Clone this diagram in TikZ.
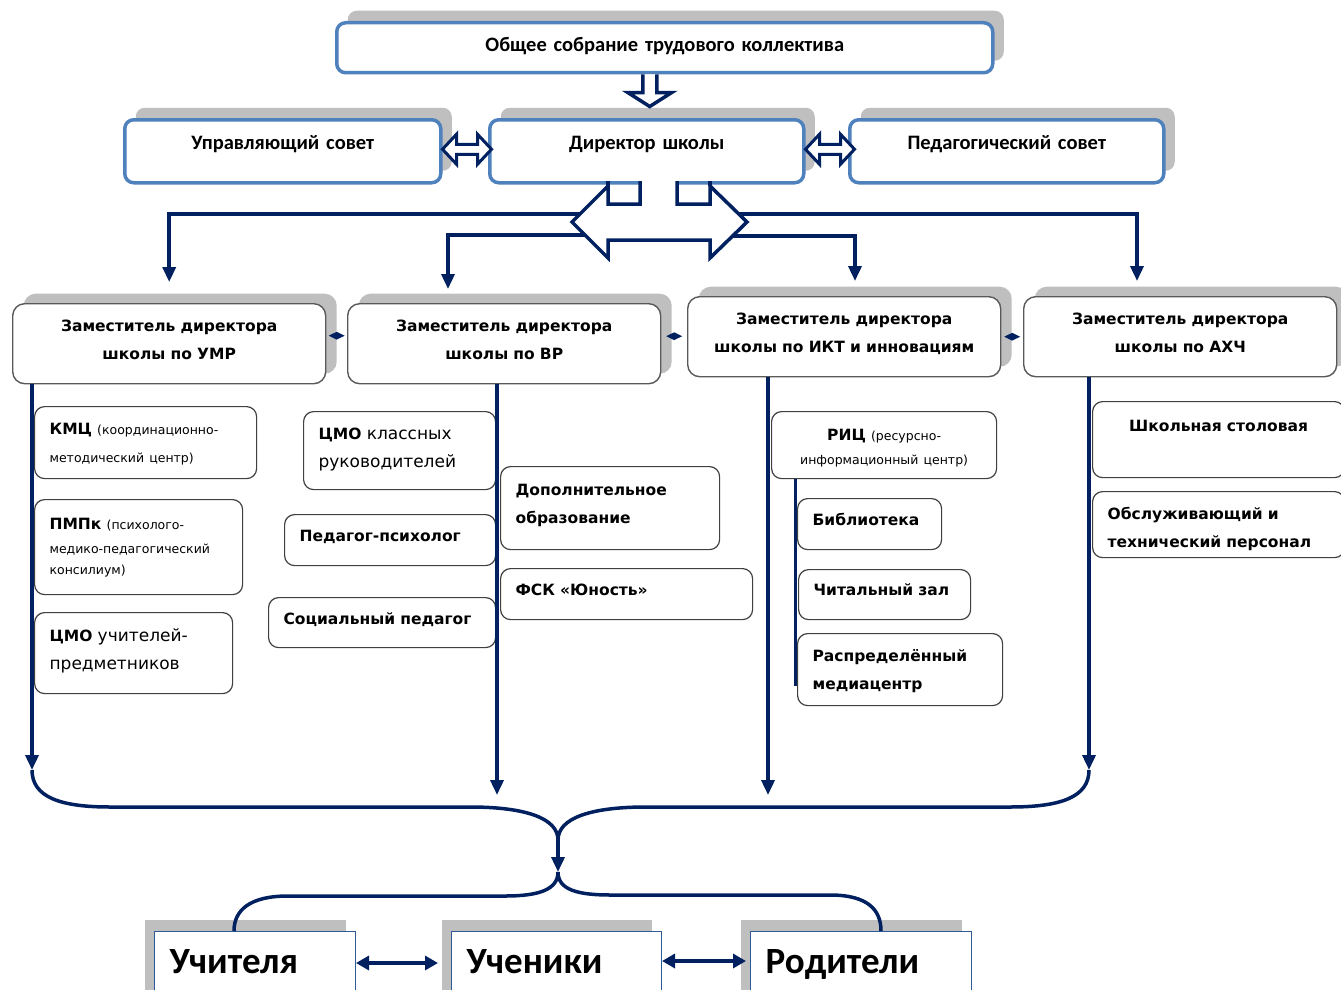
\documentclass[tikz,border=0pt]{standalone}
\usepackage{fontspec}
\setmainfont{DejaVu Sans}
\newfontfamily\calibrifont{Carlito}
\newfontfamily\smallnotefont{DejaVu Sans}
\usetikzlibrary{arrows.meta,calc,shadows,shapes.geometric}

\definecolor{navy}{RGB}{0,32,96}
\definecolor{boxblue}{RGB}{79,129,189}
\definecolor{shadowgray}{RGB}{191,191,191}
\definecolor{framegray}{RGB}{89,89,89}
\definecolor{unitgray}{RGB}{64,64,64}

\newcommand{\smallnote}[1]{{\smallnotefont\mdseries\fontsize{12.5}{15}\selectfont #1}}
\newcommand{\plainpart}{\mdseries\fontsize{17}{28}\selectfont}

\begin{document}
\begin{tikzpicture}[x=1pt, y=-1pt,
    dims/.style n args={3}{text width=#1pt, text height=#2pt, text depth=#3pt},
    council/.style={draw=boxblue, line width=3.5pt, rounded corners=9pt, fill=white,
        anchor=north west, align=center, inner sep=0pt,
        font=\calibrifont\bfseries\fontsize{20.5}{24}\selectfont,
        drop shadow={shadow xshift=11pt, shadow yshift=12pt, fill=shadowgray, opacity=1}},
    deputy/.style={draw=framegray, line width=1.4pt, rounded corners=12pt, fill=white,
        anchor=north west, align=center, inner sep=0pt,
        font=\bfseries\fontsize{15.5}{28}\selectfont,
        drop shadow={shadow xshift=11pt, shadow yshift=10pt, fill=shadowgray, opacity=1}},
    unitbox/.style={draw=unitgray, line width=1.2pt, rounded corners=10pt, fill=white,
        anchor=north west, align=left, inner xsep=15pt, inner ysep=0pt,
        font=\bfseries\fontsize{15.5}{28}\selectfont},
    groupbox/.style={draw=boxblue!60!navy, line width=1pt, fill=white,
        anchor=north west, align=left, inner xsep=15pt, inner ysep=0pt,
        font=\calibrifont\bfseries\fontsize{37}{40}\selectfont,
        drop shadow={shadow xshift=-10pt, shadow yshift=12pt, fill=shadowgray, opacity=1}},
    link mark/.style={diamond, fill=navy, inner sep=0pt, minimum width=16pt, minimum height=8pt},
    bus/.style={draw=navy, line width=3.5pt},
    hollow/.style={draw=navy, line width=3.5pt, fill=white, line join=miter},
    down tip/.style={-{Triangle[length=15pt, width=13pt]}},
    both tips/.style={{Triangle[length=13pt, width=14pt]}-{Triangle[length=13pt, width=14pt]}}
]
\useasboundingbox (0,0) rectangle (1341,990);
\fill[white] (0,0) rectangle (1341,990);

% block arrows
\def\blockdown{(-7,0) -- (-7,18) -- (-22,18) -- (0,32) -- (22,18) -- (7,18) -- (7,0)}
\def\blockpair{(0,0) -- (14,-15) -- (14,-5) -- (35,-5) -- (35,-15) -- (49,0) -- (35,15) -- (35,5) -- (14,5) -- (14,15) -- cycle}

% COUNCILS
\node[council, dims={656}{29}{21}] (meeting) at (335,21) {Общее собрание трудового коллектива};
\node[council, dims={316}{30}{33}] (board) at (123,118) {Управляющий совет};
\node[council, dims={314}{30}{33}] (dir) at (488,118) {Директор школы};
\node[council, dims={314}{30}{33}] (pedsov) at (848,118) {Педагогический совет};

% DEPUTIES
\node[deputy, dims={313}{28}{52}] (umr) at (12,303) {Заместитель директора\\школы по УМР};
\node[deputy, dims={313}{28}{52}] (vr) at (347,303) {Заместитель директора\\школы по ВР};
\node[deputy, dims={313}{28}{52}] (ikt) at (687,296) {Заместитель директора\\школы по ИКТ и инновациям};
\node[deputy, dims={313}{28}{52}] (axch) at (1023,296) {Заместитель директора\\школы по АХЧ};

% UNITS
\node[unitbox, dims={192}{28}{44}] (kmc) at (34,406) {КМЦ \smallnote{(координационно-}\\\smallnote{методический центр)}};
\node[unitbox, dims={178}{30}{65}] (pmpk) at (34,499) {ПМПк \smallnote{(психолого-}\\[-4pt]\smallnote{медико-педагогический}\\[-7pt]\smallnote{консилиум)}};
\node[unitbox, dims={168}{29}{52}] (cmoteach) at (34,612) {ЦМО {\plainpart учителей-}\\{\plainpart предметников}};

\node[unitbox, dims={162}{28}{50}] (cmocls) at (303,411) {ЦМО {\plainpart классных}\\{\plainpart руководителей}};
\node[unitbox, dims={181}{27}{24}] (psych) at (284,514) {Педагог-психолог};
\node[unitbox, dims={197}{27}{23}] (social) at (268,597) {Социальный~педагог};
\node[unitbox, dims={189}{29}{54}] (extra) at (500,466) {Дополнительное\\образование};
\node[unitbox, dims={222}{27}{24}] (fsk) at (500,568) {ФСК~«Юность»};

\node[unitbox, align=center, dims={195}{29}{38}] (ric) at (771,411) {РИЦ \smallnote{(ресурсно-}\\[-4pt]\smallnote{информационный центр)}};
\node[unitbox, dims={114}{27}{24}] (lib) at (797,498) {Библиотека};
\node[unitbox, dims={142}{26}{24}] (reading) at (798,569) {Читальный~зал};
\node[unitbox, dims={175}{28}{44}] (media) at (797,633) {Распределённый\\медиацентр};

\node[unitbox, align=center, dims={222}{30}{46}] (canteen) at (1092,401) {Школьная~столовая};
\node[unitbox, dims={222}{28}{38}] (staff) at (1092,491) {Обслуживающий~и\\технический персонал};

% PARTICIPANTS
\node[groupbox, dims={171}{42}{40}] (teachers) at (154,931) {Учителя};
\node[groupbox, dims={180}{42}{40}] (pupils) at (451,931) {Ученики};
\node[groupbox, dims={191}{42}{40}] (parents) at (750,931) {Родители};

% links between deputies
\path ([yshift=8pt]umr.east) -- node[link mark] (umr-vr) {} ([yshift=8pt]vr.west);
\path ([yshift=4pt]vr.east) -- node[link mark] (vr-ikt) {} ([yshift=4pt]ikt.west);
\path (ikt.east) -- node[link mark] (ikt-axch) {} (axch.west);

% top block arrows
\draw[hollow, shift={([xshift=-15pt]meeting.south)}] \blockdown;
\draw[hollow, line width=3pt, shift={([yshift=2pt]board.east)}] \blockpair;
\draw[hollow, line width=3pt, shift={([yshift=2pt]dir.east)}] \blockpair;

% director -> deputies
\coordinate (hubW) at (572,222);
\coordinate (hubE) at (747,222);
\coordinate (tovr) at (448,289);
\coordinate (toikt) at (855,281);
\coordinate (toaxch) at (1137,281);
\draw[bus, down tip] ([xshift=10pt,yshift=8pt]hubW) -| ([yshift=21pt]umr.north);
\draw[bus, down tip] ([xshift=14pt,yshift=-13pt]hubW) -| (tovr);
\draw[bus, down tip] ([xshift=-10pt,yshift=8pt]hubE) -| (toaxch);
\draw[bus, down tip] ([xshift=-14pt,yshift=-14pt]hubE) -| (toikt);
\draw[hollow] (640,181) -- (640,204) -- (608,204) -- (608,186) -- (hubW) -- (608,258) -- (608,240)
    -- (710,240) -- (710,258) -- (hubE) -- (710,186) -- (710,204) -- (677,204) -- (677,181);
\draw[navy, line width=3.5pt] (608,186) -- (608,181) (710,186) -- (710,181);

% deputies -> participants
\coordinate (inL) at (32,770);
\coordinate (inVR) at (497,795);
\coordinate (inIKT) at (768,795);
\coordinate (inR) at (1089,770);
\coordinate (ricfoot) at (795,686);
\draw[bus, down tip] (umr.south -| inL) -- (inL);
\draw[bus, down tip] (vr.south -| inVR) -- (inVR);
\draw[bus, down tip] (ikt.south -| inIKT) -- (inIKT);
\draw[bus, down tip] (axch.south -| inR) -- (inR);
\draw[bus, line width=3pt] (ric.south -| ricfoot) -- (ricfoot);

\coordinate (merge) at (558,840);
\coordinate (split) at (558,872);
\draw[bus] (inL) .. controls (32,797) and (60,807) .. (110,807) -- (470,807)
    .. controls (525,807) and (558,818) .. (merge);
\draw[bus] (inR) .. controls (1089,797) and (1061,807) .. (1010,807) -- (646,807)
    .. controls (591,807) and (558,818) .. (merge);
\draw[bus, down tip] (merge) -- (split);
\draw[bus] (split) .. controls (558,890) and (538,896) .. (505,896) -- (288,896)
    .. controls (250,896) and (234,910) .. ([xshift=80pt]teachers.north west);
\draw[bus] (split) .. controls (558,890) and (578,895) .. (611,895) -- (830,895)
    .. controls (868,895) and (881,910) .. ([xshift=131pt]parents.north west);

% between participants
\draw[bus, both tips] ([yshift=-32pt]teachers.north east) -- ([xshift=-13pt,yshift=-32pt]pupils.north west);
\draw[bus, both tips] ([yshift=-30pt]pupils.north east) -- ([xshift=-4pt,yshift=-30pt]parents.north west);

\end{tikzpicture}
\end{document}
